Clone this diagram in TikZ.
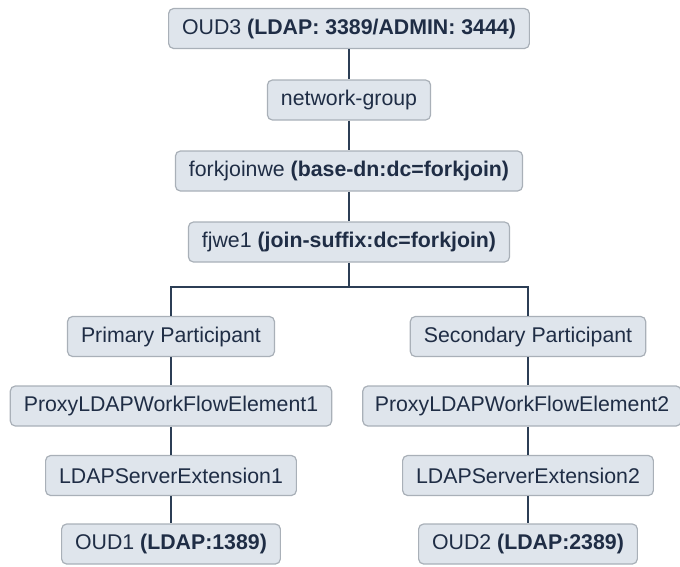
\documentclass[tikz,border=0pt]{standalone}
\usepackage{fontspec}
\setmainfont{Liberation Sans}
\definecolor{boxfill}{HTML}{DFE5EC}
\definecolor{boxdraw}{HTML}{A9B0B8}
\definecolor{txt}{HTML}{1F2D45}
\definecolor{wire}{HTML}{2C3E55}
\begin{document}
\begin{tikzpicture}[x=1pt,y=-1pt,
  box/.style={draw=boxdraw, fill=boxfill, rounded corners=5pt, line width=1.2pt,
    text=txt, font=\fontsize{21.3}{25}\selectfont, inner xsep=13.5pt, inner ysep=0pt,
    minimum height=40pt, anchor=center},
  wireline/.style={draw=wire, line width=1.1pt}]
\useasboundingbox (0,0) rectangle (680,566);
\node[box] (oud3) at (349,28.5) {OUD3 \textbf{(LDAP: 3389/ADMIN: 3444)}};
\node[box] (ng) at (349,100) {network-group};
\node[box] (fj) at (349,171) {forkjoinwe \textbf{(base-dn:dc=forkjoin)}};
\node[box] (fjwe) at (349,242) {fjwe1 \textbf{(join-suffix:dc=forkjoin)}};
\coordinate (split) at (349,287);
\node[box] (pp) at (171,336.5) {Primary Participant};
\node[box] (sp) at (528,336.5) {Secondary Participant};
\node[box] (px1) at (171,406) {ProxyLDAPWorkFlowElement1};
\node[box, inner xsep=12pt] (px2) at (522,406) {ProxyLDAPWorkFlowElement2};
\node[box] (le1) at (171,475.5) {LDAPServerExtension1};
\node[box] (le2) at (528,475.5) {LDAPServerExtension2};
\node[box] (oud1) at (171,544) {OUD1 \textbf{(LDAP:1389)}};
\node[box] (oud2) at (528,544) {OUD2 \textbf{(LDAP:2389)}};
\draw[wireline] (oud3.south) -- (ng.north);
\draw[wireline] (ng.south) -- (fj.north);
\draw[wireline] (fj.south) -- (fjwe.north);
\draw[wireline] (fjwe.south) -- (split);
\draw[wireline] (pp.north) |- (split) -| (sp.north);
\draw[wireline] (pp.south) -- (px1.north);
\draw[wireline] (px1.south) -- (le1.north);
\draw[wireline] (le1.south) -- (oud1.north);
\draw[wireline] (sp.south) -- (sp.south |- px2.north);
\draw[wireline] (le2.north |- px2.south) -- (le2.north);
\draw[wireline] (le2.south) -- (oud2.north);
\end{tikzpicture}
\end{document}
